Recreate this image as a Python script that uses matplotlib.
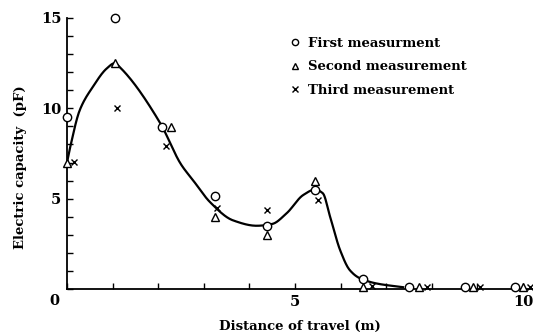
import numpy as np
import matplotlib
matplotlib.use("Agg")
import matplotlib.pyplot as plt

dist_first = [0.0, 1.05, 2.08, 3.25, 4.38, 5.44, 6.5, 7.5, 8.73, 9.82]
cap_first = [9.5, 15.0, 8.95, 5.15, 3.5, 5.5, 0.55, 0.1, 0.1, 0.1]

dist_second = [0.0, 1.05, 2.28, 3.25, 4.38, 5.44, 6.5, 7.72, 8.9, 10.0]
cap_second = [7.0, 12.5, 8.95, 4.0, 3.0, 6.0, 0.1, 0.1, 0.1, 0.1]

dist_third = [0.15, 1.1, 2.17, 3.28, 4.38, 5.5, 6.7, 7.9, 9.05, 10.15]
cap_third = [7.05, 10.0, 7.9, 4.5, 4.35, 4.95, 0.15, 0.1, 0.1, 0.1]

# hand drawn trend curve
trend_x = [0, 0.07, 0.28, 0.57, 0.87, 1.05, 1.16, 2.04, 2.5, 2.77, 3.14, 3.64,
           4.16, 4.5, 4.82, 5.18, 5.44, 5.61, 5.77, 5.99, 6.2, 6.42, 6.8, 7.37]
trend_y = [7.0, 7.85, 9.9, 11.2, 12.2, 12.5, 12.27, 9.2, 6.9, 6.0, 4.8, 3.8,
           3.5, 3.6, 4.2, 5.2, 5.5, 5.3, 4.0, 2.15, 1.05, 0.6, 0.3, 0.1]

labels = ["First measurment", "Second measurement", "Third measurement"]


def pchip(x, y, xs):
    x = np.asarray(x, float)
    y = np.asarray(y, float)
    h = np.diff(x)
    d = np.diff(y) / h
    m = np.zeros_like(y)
    m[0], m[-1] = d[0], d[-1]
    for k in range(1, len(x) - 1):
        if d[k - 1] * d[k] > 0:
            w1 = 2 * h[k] + h[k - 1]
            w2 = h[k] + 2 * h[k - 1]
            m[k] = (w1 + w2) / (w1 / d[k - 1] + w2 / d[k])
    idx = np.clip(np.searchsorted(x, xs) - 1, 0, len(x) - 2)
    t = (xs - x[idx]) / h[idx]
    h00 = 2 * t**3 - 3 * t**2 + 1
    h10 = t**3 - 2 * t**2 + t
    h01 = -2 * t**3 + 3 * t**2
    h11 = t**3 - t**2
    return (h00 * y[idx] + h10 * h[idx] * m[idx]
            + h01 * y[idx + 1] + h11 * h[idx] * m[idx + 1])


plt.rcParams["font.family"] = "DejaVu Serif"
plt.rcParams["font.weight"] = "bold"
plt.rcParams["axes.labelweight"] = "bold"

fig = plt.figure(figsize=(5.33, 3.33), dpi=100)
ax = fig.add_axes([0.1257, 0.1321, 0.8743, 0.814])

xs = np.linspace(trend_x[0], trend_x[-1], 400)
ax.plot(xs, pchip(trend_x, trend_y, xs), color="black", lw=1.6, zorder=2)

kw = dict(ls="none", color="black", mfc="white", mew=1.0, clip_on=False, zorder=3)
ax.plot(dist_first, cap_first, marker="o", ms=6, label=labels[0], **kw)
ax.plot(dist_second, cap_second, marker="^", ms=5.5, label=labels[1], **kw)
ax.plot(dist_third, cap_third, marker="x", ms=5, label=labels[2], **kw)

ax.set_xlim(0, 10.22)
ax.set_ylim(0, 15)
for s in ["top", "right"]:
    ax.spines[s].set_visible(False)
for s in ["left", "bottom"]:
    ax.spines[s].set_linewidth(1.3)

ax.set_xticks(range(0, 11))
ax.set_xticklabels(["", "", "", "", "", "5", "", "", "", "", "10"])
ax.set_yticks(range(0, 16))
ax.set_yticklabels([str(v) if v in (5, 10, 15) else "" for v in range(16)])
ax.tick_params(direction="in", length=4, width=1.0, labelsize=10.5, pad=4)
ax.text(-0.17, -0.3, "0", ha="right", va="top", fontsize=10.5)

ax.set_xlabel("Distance of travel (m)", fontsize=9.5, labelpad=8)
ax.set_ylabel("Electric capacity  (pF)", fontsize=9.5)
ax.yaxis.set_label_coords(-0.085, 0.45)

ax.legend(loc="upper left", bbox_to_anchor=(0.45, 0.975), frameon=False,
          fontsize=9.5, markerscale=0.75, handlelength=1.0, handletextpad=0.5,
          labelspacing=0.8)

fig.savefig("out.png", dpi=100)
